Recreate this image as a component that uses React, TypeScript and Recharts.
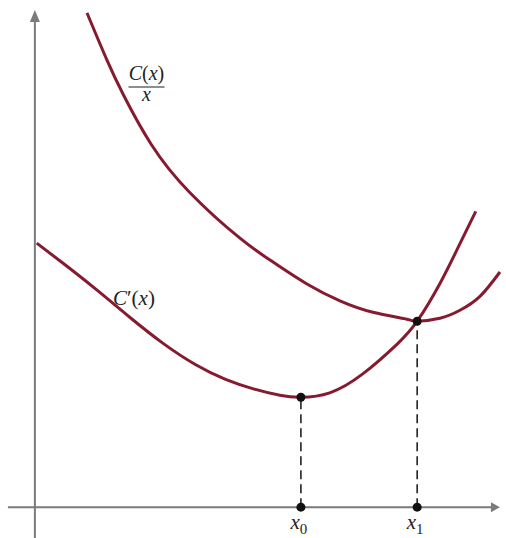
import { LineChart, Line, XAxis, YAxis, ReferenceLine, ReferenceDot } from "recharts";

// average cost curve C(x)/x
const avgCost = [
  { x: 1.12, y: 9.94 },
  { x: 1.55, y: 8.99 },
  { x: 1.9, y: 8.3 },
  { x: 2.5, y: 7.3 },
  { x: 3.33, y: 6.33 },
  { x: 4.41, y: 5.41 },
  { x: 5.12, y: 4.93 },
  { x: 5.85, y: 4.49 },
  { x: 6.56, y: 4.15 },
  { x: 7.27, y: 3.92 },
  { x: 8.0, y: 3.78 },
  { x: 8.22, y: 3.74 },
  { x: 8.71, y: 3.8 },
  { x: 9.14, y: 3.96 },
  { x: 9.57, y: 4.24 },
  { x: 10.0, y: 4.73 },
];

// marginal cost curve C'(x)
const marginalCost = [
  { x: 0.04, y: 5.31 },
  { x: 0.6, y: 4.91 },
  { x: 1.33, y: 4.37 },
  { x: 2.04, y: 3.82 },
  { x: 2.75, y: 3.3 },
  { x: 3.45, y: 2.87 },
  { x: 4.1, y: 2.57 },
  { x: 4.7, y: 2.38 },
  { x: 5.27, y: 2.25 },
  { x: 5.72, y: 2.21 },
  { x: 6.34, y: 2.3 },
  { x: 7.05, y: 2.68 },
  { x: 7.79, y: 3.28 },
  { x: 8.22, y: 3.74 },
  { x: 8.71, y: 4.5 },
  { x: 9.14, y: 5.3 },
  { x: 9.48, y: 5.95 },
];

// marked points: x0 = min of C'(x), x1 = min of C(x)/x
const marks = [
  { name: "0", x: 5.72, y: 2.21 },
  { name: "1", x: 8.22, y: 3.74 },
];

const X_DOMAIN: [number, number] = [-0.75, 10.13];
const Y_DOMAIN: [number, number] = [-0.62, 10.2];

const CURVE = "#861b30";
const AXIS = "#7a7a7a";
const INK = "#1e1e1e";
const SERIF = "'Liberation Serif', 'DejaVu Serif', serif";

const ArrowRight = (p: any) => (
  <path d={`M${p.cx},${p.cy} L${p.cx - 9},${p.cy - 5} L${p.cx - 9},${p.cy + 5} Z`} fill={AXIS} />
);
const ArrowUp = (p: any) => (
  <path d={`M${p.cx},${p.cy} L${p.cx - 5},${p.cy + 12} L${p.cx + 5},${p.cy + 12} Z`} fill={AXIS} />
);

const AvgLabel = (p: any) => (
  <g fontFamily={SERIF} fill={INK} fontSize={20}>
    <text x={p.cx} y={p.cy - 7} textAnchor="middle">
      <tspan fontStyle="italic">C</tspan>(<tspan fontStyle="italic">x</tspan>)
    </text>
    <line x1={p.cx - 18} x2={p.cx + 18} y1={p.cy} y2={p.cy} stroke={INK} strokeWidth={1.2} />
    <text x={p.cx} y={p.cy + 14} textAnchor="middle" fontStyle="italic">x</text>
  </g>
);

const MarginalLabel = (p: any) => (
  <text x={p.cx} y={p.cy} fontFamily={SERIF} fill={INK} fontSize={21}>
    <tspan fontStyle="italic">C</tspan>′(<tspan fontStyle="italic">x</tspan>)
  </text>
);

const subLabel = (sub: string) => (p: any) => (
  <g>
    <circle cx={p.cx} cy={p.cy} r={4.5} fill="#111" />
    <text x={p.cx - 2} y={p.cy + 22} fontFamily={SERIF} fill={INK} fontSize={21} textAnchor="middle">
      <tspan fontStyle="italic">x</tspan>
      <tspan fontSize={15} dy={5}>{sub}</tspan>
    </text>
  </g>
);

export default function App() {
  return (
    <div style={{ position: "absolute", left: 0, top: 0, background: "#fff" }}>
      <LineChart width={506} height={538} margin={{ top: 0, right: 0, bottom: 0, left: 0 }}>
        <XAxis hide type="number" dataKey="x" domain={X_DOMAIN} allowDataOverflow />
        <YAxis hide type="number" domain={Y_DOMAIN} allowDataOverflow />

        <ReferenceLine segment={[{ x: -0.58, y: 0 }, { x: 9.9, y: 0 }]} stroke={AXIS} strokeWidth={2} ifOverflow="visible" />
        <ReferenceLine segment={[{ x: 0, y: -0.62 }, { x: 0, y: 9.8 }]} stroke={AXIS} strokeWidth={2} ifOverflow="visible" />
        <ReferenceDot x={10.0} y={0} r={0} shape={ArrowRight} ifOverflow="visible" />
        <ReferenceDot x={0} y={10.0} r={0} shape={ArrowUp} ifOverflow="visible" />

        {marks.map((m) => (
          <ReferenceLine
            key={`d${m.name}`}
            segment={[{ x: m.x, y: 0 }, { x: m.x, y: m.y }]}
            stroke="#222"
            strokeWidth={1.6}
            strokeDasharray="9 5"
            ifOverflow="visible"
          />
        ))}

        <Line data={avgCost} dataKey="y" type="natural" stroke={CURVE} strokeWidth={3} dot={false} activeDot={false} isAnimationActive={false} />
        <Line data={marginalCost} dataKey="y" type="natural" stroke={CURVE} strokeWidth={3} dot={false} activeDot={false} isAnimationActive={false} />

        {marks.map((m) => (
          <ReferenceDot key={`p${m.name}`} x={m.x} y={m.y} r={4.5} fill="#111" stroke="none" ifOverflow="visible" />
        ))}
        {marks.map((m) => (
          <ReferenceDot key={`a${m.name}`} x={m.x} y={0} r={0} shape={subLabel(m.name)} ifOverflow="visible" />
        ))}

        <ReferenceDot x={2.4} y={8.45} r={0} shape={AvgLabel} ifOverflow="visible" />
        <ReferenceDot x={1.68} y={4.06} r={0} shape={MarginalLabel} ifOverflow="visible" />
      </LineChart>
    </div>
  );
}
